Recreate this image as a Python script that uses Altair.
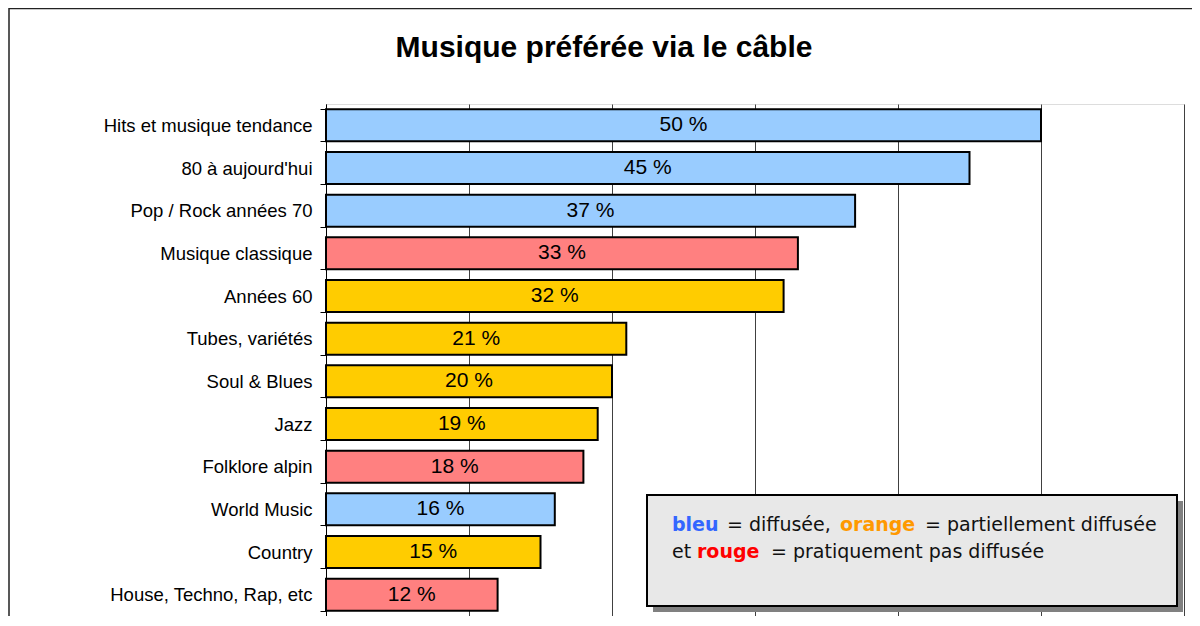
import altair as alt
import pandas as pd

categories = ["Hits et musique tendance", "80 à aujourd'hui", "Pop / Rock années 70",
              "Musique classique", "Années 60", "Tubes, variétés", "Soul & Blues",
              "Jazz", "Folklore alpin", "World Music", "Country", "House, Techno, Rap, etc"]
values = [50, 45, 37, 33, 32, 21, 20, 19, 18, 16, 15, 12]
status = ["bleu", "bleu", "bleu", "rouge", "orange", "orange", "orange", "orange",
          "rouge", "bleu", "orange", "rouge"]

title_text = "Musique préférée via le câble"
status_domain = ["bleu", "orange", "rouge"]
bar_colors = ["#99CCFF", "#FFCC00", "#FF8080"]

df = pd.DataFrame({"cat": categories, "value": values, "status": status})
df["label"] = [f"{v} %" for v in values]

FONT = "Liberation Sans"

y_enc = alt.Y("cat:N", sort=categories,
              scale=alt.Scale(paddingInner=0.25, paddingOuter=0.125),
              axis=alt.Axis(title=None, labelFont=FONT, labelFontSize=18.5, labelColor="black",
                            tickBand="extent", ticks=True, tickSize=6, tickColor="black",
                            domainColor="black", labelPadding=8, labelLimit=400, grid=False))
x_enc = alt.X("value:Q", scale=alt.Scale(domain=[0, 60], nice=False),
              axis=alt.Axis(title=None, labels=False, ticks=True, tickSize=10, tickColor="#404040",
                            values=[0, 10, 20, 30, 40, 50, 60], grid=True, gridColor="#404040",
                            gridWidth=1, domainColor="black"))

base = alt.Chart(df)
bars = base.mark_bar(stroke="black", strokeWidth=2).encode(
    y=y_enc, x=x_enc,
    color=alt.Color("status:N", scale=alt.Scale(domain=status_domain, range=bar_colors), legend=None),
)
labels = base.transform_calculate(mid="datum.value / 2").mark_text(
    font=FONT, fontSize=21, color="black", baseline="middle", align="center"
).encode(y=y_enc, x=alt.X("mid:Q", scale=alt.Scale(domain=[0, 60], nice=False)), text="label:N")

one = alt.Chart(pd.DataFrame({"a": [0]}))

frame = one.mark_rect(fillOpacity=0, stroke="#222", strokeWidth=1.5).encode(
    x=alt.value(-317), x2=alt.value(900), y=alt.value(-95.5), y2=alt.value(700))

title = one.mark_text(font=FONT, fontSize=30, fontWeight="bold", color="black",
                      align="center", baseline="alphabetic").encode(
    x=alt.value(278), y=alt.value(-47), text=alt.value(title_text))

shadow = one.mark_rect(fill="#808080").encode(
    x=alt.value(327), x2=alt.value(857), y=alt.value(397), y2=alt.value(508))
box = one.mark_rect(fill="#E8E8E8", stroke="black", strokeWidth=2).encode(
    x=alt.value(321), x2=alt.value(851), y=alt.value(391), y2=alt.value(502))


def seg(text, x, y, color="#111111", bold=False):
    return one.mark_text(font="DejaVu Sans", fontSize=19, color=color,
                         fontWeight="bold" if bold else "normal",
                         align="left", baseline="alphabetic").encode(
        x=alt.value(x), y=alt.value(y), text=alt.value(text))


legend_layers = [
    seg("bleu", 346, 427, "#3366FF", True),
    seg("= diffusée,", 401, 427),
    seg("orange", 514, 427, "#FF9900", True),
    seg("= partiellement diffusée", 599, 427),
    seg("et", 346, 454),
    seg("rouge", 371, 454, "#FF0000", True),
    seg("= pratiquement pas diffusée", 445, 454),
]

chart = alt.layer(frame, bars, labels, shadow, box, *legend_layers, title).properties(
    width=858, height=512, autosize="none",
    padding={"left": 318, "top": 96, "right": 8, "bottom": 0},
).configure_view(stroke="black", strokeWidth=1).configure(background="white")

chart.save("out.html", embed_options={"renderer": "svg", "actions": False})
